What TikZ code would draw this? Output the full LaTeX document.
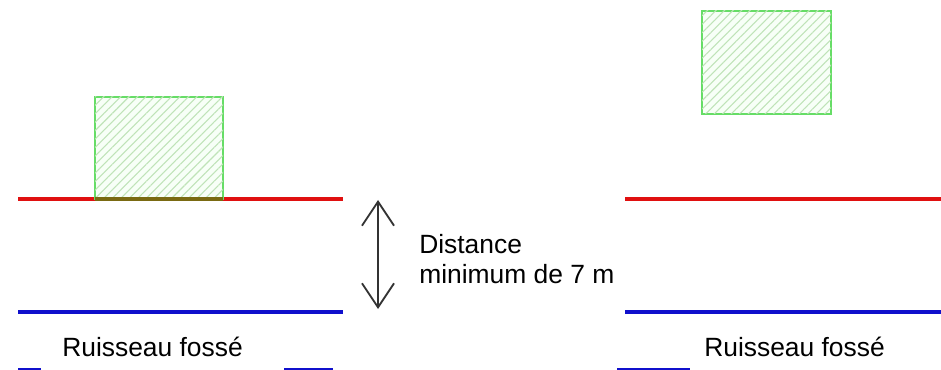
\documentclass[tikz,border=0pt]{standalone}
\usepackage{fontspec}
\setmainfont{Liberation Sans}
\usetikzlibrary{arrows.meta,patterns.meta}

\definecolor{bordgreen}{HTML}{66DD66}
\definecolor{hatchgreen}{HTML}{BFE3B8}
\definecolor{riverred}{HTML}{E01010}
\definecolor{riverblue}{HTML}{1010CC}
\definecolor{overlap}{HTML}{7A6A12}

\tikzset{
  bati/.style={draw=bordgreen, line width=1.5pt, fill=green!3,
    postaction={pattern={Lines[angle=45,distance=4.5pt,line width=0.8pt]}, pattern color=hatchgreen}},
  berge/.style={draw=riverred, line width=2.3pt},
  fosse/.style={draw=riverblue, line width=2.3pt},
  legende/.style={inner sep=0pt, anchor=base west, font=\fontsize{19.8}{22.5}\selectfont},
}

\begin{document}
\begin{tikzpicture}[x=0.75pt, y=-0.75pt]
    \useasboundingbox (0,0) rectangle (941,370);

    % Cas 1 : batiment sur la berge
    \draw[berge] (18,199) -- (343,199);
    \draw[fosse] (18,312) -- (343,312);
    \draw[bati] (95,97) rectangle (223,199);
    \draw[overlap, line width=2.6pt] (95,199) -- (223,199);
    \node (ruis1) [legende] at (62,356) {Ruisseau fossé};

    % Distance minimum
    \coordinate (haut) at (378,200);
    \coordinate (bas) at (378,309);
    \draw[{Straight Barb[length=18pt,width=24pt]}-{Straight Barb[length=18pt,width=24pt]}, line width=1.4pt, black!80] (haut) -- (bas);
    \node (dist1) [legende] at (419,253) {Distance};
    \node (dist2) [legende] at (419,283) {minimum de 7 m};

    % Cas 2 : batiment en retrait
    \draw[berge] (625,199) -- (941,199);
    \draw[fosse] (625,312) -- (941,312);
    \draw[bati] (702,11) rectangle (831,114);
    \node (ruis2) [legende] at (704,356) {Ruisseau fossé};

    % bas de page
    \draw[fosse, line width=1.6pt] (18,369) -- (41,369);
    \draw[fosse, line width=1.6pt] (284,369) -- (333,369);
    \draw[fosse, line width=1.6pt] (617,369) -- (690,369);
\end{tikzpicture}
\end{document}
